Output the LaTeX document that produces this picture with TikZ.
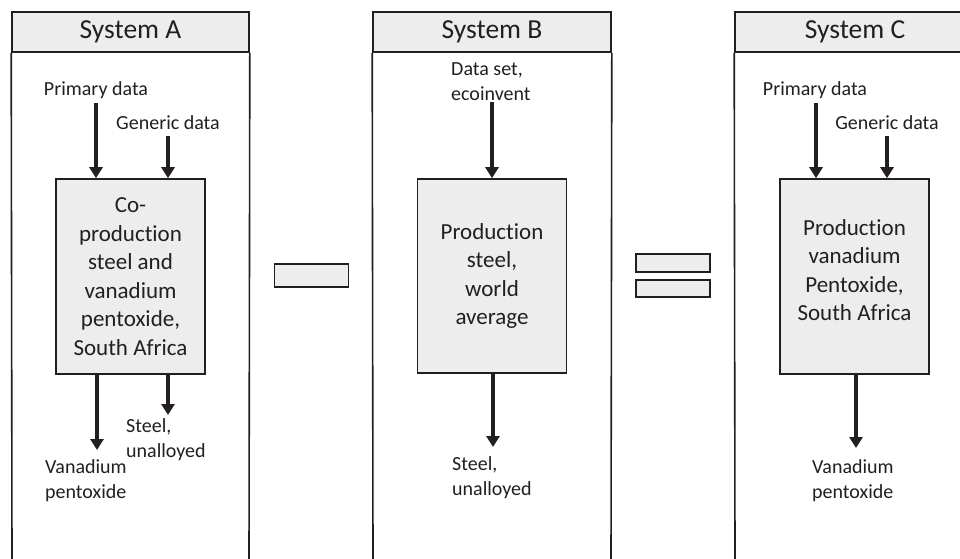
\documentclass[tikz,border=0pt]{standalone}
\usepackage{fontspec}
\setmainfont{Carlito}[Ligatures={NoCommon,NoRare}]
\usetikzlibrary{arrows.meta}
\definecolor{ink}{HTML}{231F20}
\definecolor{pale}{HTML}{EDEDED}
\tikzset{
  panelhead/.style={draw=ink, line width=1.6pt, fill=pale, inner sep=0pt, text=ink,
    font=\fontsize{27.5}{32}\selectfont},
  panelside/.style={draw=ink, line width=1.6pt},
  procbox/.style={draw=ink, line width=1.6pt, fill=pale, inner sep=0pt, text=ink, align=center,
    font=\fontsize{23}{28.5}\selectfont, minimum width=149pt, minimum height=195pt},
  boxtext/.style={inner sep=0pt, text=ink, align=center, font=\fontsize{23}{28.5}\selectfont},
  lbl/.style={inner sep=0pt, text=ink, font=\fontsize{20}{25}\selectfont},
  opbar/.style={draw=ink, line width=1.6pt, fill=pale, inner sep=0pt, minimum width=74pt},
  flow/.style={draw=ink, line width=4pt, -{Triangle[width=13pt,length=11pt]}}
}
\begin{document}
\begin{tikzpicture}[x=1pt,y=-1pt]
\useasboundingbox (0,0) rectangle (960,558);
\clip (0,0) rectangle (960,558);
\fill[white] (0,0) rectangle (960,558);

% panel headers
\node[panelhead, minimum width=237pt, minimum height=40pt] (hA) at (130.5,32) {System A};
\node[panelhead, minimum width=238pt, minimum height=40pt] (hB) at (492,32) {System B};
\node[panelhead, minimum width=240pt, minimum height=40pt] (hC) at (855,32) {System C};
\coordinate (bA1) at (12,560); \coordinate (bA2) at (249,560);
\coordinate (bB1) at (373,560); \coordinate (bB2) at (611,560);
\coordinate (bC1) at (735,560);
\draw[panelside] (hA.south west) -- (bA1);
\draw[panelside] (hA.south east) -- (bA2);
\draw[panelside] (hB.south west) -- (bB1);
\draw[panelside] (hB.south east) -- (bB2);
\draw[panelside] (hC.south west) -- (bC1);

% process boxes
\node[procbox] (boxA) at (130.5,276.5) {Co-\\production\\steel and\\vanadium\\pentoxide,\\South Africa};
\node[procbox, minimum height=194pt] (boxB) at (492,276) {Production\\steel,\\world\\average};
\node[procbox] (boxC) at (854.5,276.5) {};
\node[boxtext] (boxCt) at (854.5,270) {Production\\vanadium\\Pentoxide,\\South Africa};

% operators
\node[opbar, minimum height=23pt] (minus) at (311.5,275.5) {};
\node[opbar, minimum height=18pt] (eq1) at (673,263) {};
\node[opbar, minimum height=17pt] (eq2) at (673,288.5) {};

% System A labels and flows
\node[lbl] (pdA) at (96,90) {Primary data};
\node[lbl] (gdA) at (168,123) {Generic data};
\coordinate (pAs) at (96,103);
\coordinate (gAs) at (168,136);
\draw[flow] (pAs) -- (pAs |- boxA.north);
\draw[flow] (gAs) -- (gAs |- boxA.north);
\coordinate (vAe) at (97,450);
\coordinate (sAe) at (168,415);
\draw[flow] (boxA.south -| vAe) -- (vAe);
\draw[flow] (boxA.south -| sAe) -- (sAe);
\node[lbl, align=left, anchor=west] (vA) at (45,480.5) {Vanadium\\pentoxide};
\node[lbl, align=left, anchor=west] (sA) at (126,439.5) {Steel,\\unalloyed};

% System B labels and flows
\node[lbl, align=left, anchor=west] (dB) at (451,81.5) {Data set,\\ecoinvent};
\coordinate (dBs) at (492,102);
\draw[flow] (dBs) -- (dBs |- boxB.north);
\coordinate (sBe) at (493,447);
\draw[flow] (boxB.south -| sBe) -- (sBe);
\node[lbl, align=left, anchor=west] (sB) at (452,478) {Steel,\\unalloyed};

% System C labels and flows
\node[lbl] (pdC) at (815,90) {Primary data};
\node[lbl] (gdC) at (887,123) {Generic data};
\coordinate (pCs) at (816,103);
\coordinate (gCs) at (887,136);
\draw[flow] (pCs) -- (pCs |- boxC.north);
\draw[flow] (gCs) -- (gCs |- boxC.north);
\coordinate (vCe) at (856,448);
\draw[flow] (boxC.south -| vCe) -- (vCe);
\node[lbl, align=left, anchor=west] (vC) at (812,480.5) {Vanadium\\pentoxide};
\end{tikzpicture}
\end{document}
